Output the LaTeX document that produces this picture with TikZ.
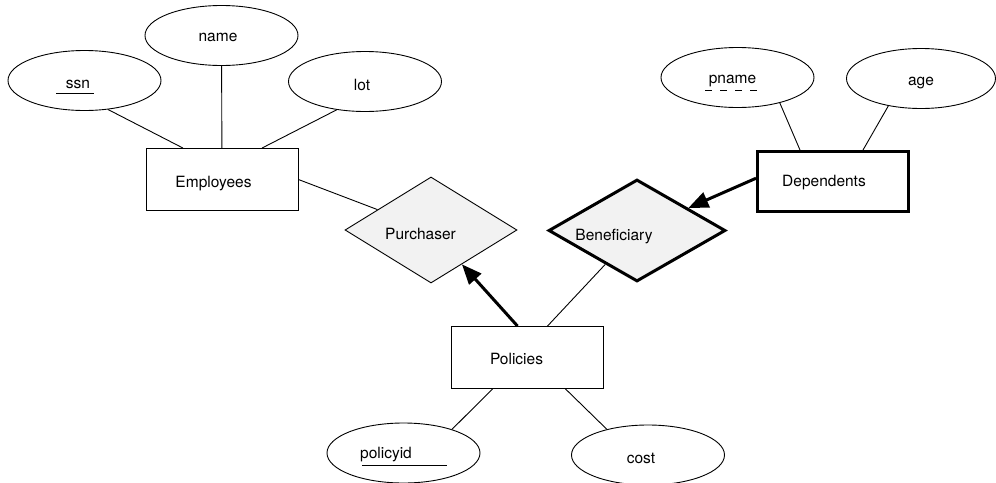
\documentclass[tikz,border=0pt]{standalone}
\usepackage{fontspec}
\setmainfont{TeX Gyre Heros}
\usetikzlibrary{arrows.meta}
\usetikzlibrary{shapes.geometric}

\definecolor{relfill}{gray}{0.95}

\begin{document}
\begin{tikzpicture}[x=1pt,y=-1pt,font=\fontsize{15.5}{18}\selectfont,
                    lowtext/.style={text height=15pt,text depth=0pt,inner sep=0pt}]
	\useasboundingbox (0,0) rectangle (996,482);

	% attributes
	\begin{scope}[every node/.style={ellipse,draw,line width=0.9pt,lowtext,
	              minimum width=153pt,minimum height=60pt}]
		\node (ssn) at (84.5,80.5) {ssn\hspace*{13pt}};
		\node[text height=12pt] (name) at (221.5,35.5) {name\hspace*{7pt}};
		\node[text height=18pt] (lot) at (365,81.5) {lot\hspace*{6pt}};
		\node[text height=11pt] (pname) at (737.5,77.5) {pname\hspace*{10pt}};
		\node[text height=13pt,minimum width=149pt] (age) at (921,78.5) {age};
		\node[text height=10pt] (policyid) at (403.5,453) {policyid\hspace*{35pt}};
		\node[text height=16pt] (cost) at (648,455) {cost\hspace*{14pt}};
	\end{scope}

	% entities
	\begin{scope}[every node/.style={rectangle,draw,line width=0.9pt,lowtext,
	              minimum width=152pt,minimum height=62pt}]
		\node[text height=16pt] (employees) at (222,179.5) {Employees\hspace*{17pt}};
		\node[text height=13pt] (policies) at (527.5,357.5) {Policies\hspace*{22pt}};
		\node[line width=3pt,text height=10pt,minimum width=151pt,minimum height=59.5pt]
			(dependents) at (833,181.25) {Dependents\hspace*{18pt}};
	\end{scope}

	% relationships
	\begin{scope}[every node/.style={diamond,aspect=1.7,draw,fill=relfill,lowtext}]
		\node[line width=0.9pt,text height=18pt,minimum width=172pt,minimum height=106pt]
			(purchaser) at (431,230) {Purchaser\hspace*{21pt}};
		\node[line width=3pt,text height=19pt,minimum width=177pt,minimum height=102pt]
			(beneficiary) at (637,230.5) {Beneficiary\hspace*{46pt}};
	\end{scope}

	% keys
	\draw[line width=0.9pt] ([xshift=-28.5pt,yshift=-12.5pt]ssn.center) -- ++(38,0);
	\draw[line width=0.9pt] ([xshift=-41.5pt,yshift=-12pt]policyid.center) -- ++(85,0);
	\draw[line width=0.9pt,dash pattern=on 7pt off 8pt]
		([xshift=-32.5pt,yshift=-12.5pt]pname.center) -- ++(53,0);

	\begin{scope}[line width=0.9pt,
	              heavy/.style={line width=3pt,-{Triangle[length=20pt,width=16pt]}}]
		\draw (ssn.-51) -- ([xshift=-39pt]employees.north);
		\draw (name) -- (employees);
		\draw (lot.-135) -- ([xshift=40pt]employees.north);
		\draw (employees.east) -- (purchaser);
		\draw[heavy] ([xshift=-10pt]policies.north) -- (purchaser);
		\draw ([xshift=20pt]policies.north) -- (beneficiary);
		\draw[heavy] ([yshift=3pt]dependents.west) -- (beneficiary);
		\draw (pname.-31) -- ([xshift=-33pt]dependents.north);
		\draw (age.-140) -- ([xshift=30pt]dependents.north);
		\draw (policyid.26) -- ([xshift=-35pt]policies.south);
		\draw (cost.148) -- ([xshift=38pt]policies.south);
	\end{scope}
\end{tikzpicture}
\end{document}
